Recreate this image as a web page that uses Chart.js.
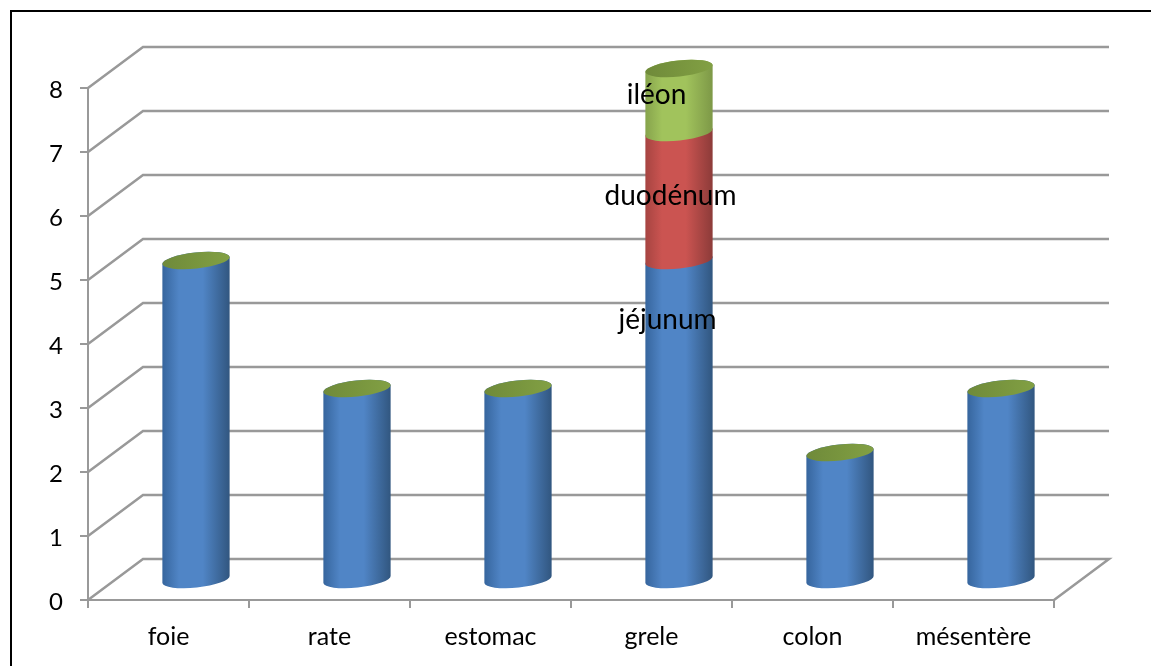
<!DOCTYPE html>
<html>
<head>
<meta charset="utf-8">
<title>grele</title>
<style>
  html, body { margin: 0; padding: 0; background: #fff; }
  #wrap { position: absolute; left: 0; top: 0; width: 1151px; height: 666px; }
</style>
<script src="https://cdn.jsdelivr.net/npm/chart.js@4"></script>
</head>
<body>
<div id="wrap"><canvas id="myChart" width="1151" height="666"></canvas></div>
<script>
// donnees
const categories = ["foie", "rate", "estomac", "grele", "colon", "mésentère"];
const jejunum = [5, 3, 3, 5, 2, 3];
const duodenum = [0, 0, 0, 2, 0, 0];
const ileon = [0, 0, 0, 1, 0, 0];
const yTicks = [0, 1, 2, 3, 4, 5, 6, 7, 8];

const FONT = "Lato, 'Open Sans', sans-serif";
const GRID = "#999999";

// profondeur de la vue 3D
const DEPTH_X = 55;
const DEPTH_Y = -41;

// ellipse des cylindres
const CAP_RY = 8;
const CAP_TILT = -0.105;
const CYL_DY = DEPTH_Y / 2 + 1;

// couleurs du cylindre : bord gauche, centre, bord droit
const shades = [
  ["#36659d", "#5085c6", "#31567f"],
  ["#a64441", "#cb5451", "#8c3b39"],
  ["#86a34c", "#a1c35c", "#7d9847"]
];
const capColors = ["#6f8a3a", "#78953e", "#82a044"];

// murs et grille derriere les barres
const walls = {
  id: "walls",
  beforeDatasetsDraw(chart) {
    const { ctx, chartArea: a, scales: { y } } = chart;
    ctx.save();
    ctx.strokeStyle = GRID;
    ctx.lineWidth = 2.5;
    yTicks.forEach(v => {
      const py = y.getPixelForValue(v);
      ctx.beginPath();
      ctx.moveTo(a.left, py);
      ctx.lineTo(a.left + DEPTH_X, py + DEPTH_Y);
      ctx.lineTo(a.right + DEPTH_X, py + DEPTH_Y);
      if (v === 0) ctx.lineTo(a.right, py);
      ctx.stroke();
    });
    ctx.restore();
  }
};

function cylinderPart(ctx, x, top, base, rx, colors) {
  const grad = ctx.createLinearGradient(x - rx, 0, x + rx, 0);
  grad.addColorStop(0, colors[0]);
  grad.addColorStop(0.25, colors[1]);
  grad.addColorStop(0.6, colors[1]);
  grad.addColorStop(1, colors[2]);
  ctx.fillStyle = grad;
  ctx.beginPath();
  ctx.ellipse(x, base, rx, CAP_RY, CAP_TILT, 0, Math.PI);
  ctx.ellipse(x, top, rx, CAP_RY, CAP_TILT, Math.PI, Math.PI * 2);
  ctx.closePath();
  ctx.fill();
}

// les cylindres sont dessines a partir des elements de barres de Chart.js
const cylinders = {
  id: "cylinders",
  afterDatasetsDraw(chart) {
    const ctx = chart.ctx;
    const last = chart.data.datasets.length - 1;
    ctx.save();
    chart.data.datasets.forEach((ds, i) => {
      chart.getDatasetMeta(i).data.forEach((bar, j) => {
        const x = bar.x + DEPTH_X / 2;
        const top = bar.y + CYL_DY;
        const base = bar.base + CYL_DY;
        const rx = bar.width / 2;
        if (ds.data[j] > 0) cylinderPart(ctx, x, top, base, rx, shades[i]);
        if (i === last) {
          const grad = ctx.createLinearGradient(x - rx, 0, x + rx, 0);
          capColors.forEach((c, k) => grad.addColorStop(k / 2, c));
          ctx.fillStyle = grad;
          ctx.beginPath();
          ctx.ellipse(x, top, rx, CAP_RY, CAP_TILT, 0, Math.PI * 2);
          ctx.fill();
        }
      });
    });
    ctx.restore();
  }
};

// noms des segments sur la barre grele, et cadre du graphique
const labels = {
  id: "labels",
  afterDraw(chart) {
    const ctx = chart.ctx;
    ctx.save();
    ctx.fillStyle = "#000";
    ctx.font = "28px " + FONT;
    ctx.textAlign = "center";
    ctx.textBaseline = "middle";
    chart.data.datasets.forEach((ds, i) => {
      const bar = chart.getDatasetMeta(i).data[categories.indexOf("grele")];
      ctx.fillText(ds.label, bar.x + ds.textDx, (bar.y + bar.base) / 2 + ds.textDy);
    });
    ctx.fillRect(10, 10, 1141, 2);
    ctx.fillRect(10, 10, 2, 656);
    ctx.restore();
  }
};

new Chart(document.getElementById("myChart"), {
  type: "bar",
  data: {
    labels: categories,
    datasets: [
      { label: "jéjunum", data: jejunum, textDx: 16, textDy: -120 },
      { label: "duodénum", data: duodenum, textDx: 19, textDy: -20 },
      { label: "iléon", data: ileon, textDx: 5, textDy: -25 }
    ].map(ds => ({ ...ds, backgroundColor: "transparent", barPercentage: 0.42, categoryPercentage: 1 }))
  },
  options: {
    responsive: false,
    animation: false,
    layout: { padding: { left: 0, right: 97, top: 88, bottom: 0 } },
    plugins: { legend: { display: false }, tooltip: { enabled: false } },
    scales: {
      x: {
        stacked: true,
        afterFit(s) { s.height = 66; },
        grid: { drawOnChartArea: false, color: GRID, lineWidth: 2, tickLength: 8 },
        border: { color: GRID, width: 2 },
        ticks: { color: "#000", font: { family: FONT, size: 25 }, padding: 14, maxRotation: 0 }
      },
      y: {
        stacked: true,
        min: 0,
        max: 8,
        afterFit(s) { s.width = 88; },
        afterBuildTicks(s) { s.ticks = yTicks.map(v => ({ value: v })); },
        grid: { drawOnChartArea: false, color: GRID, lineWidth: 2, tickLength: 8 },
        border: { color: GRID, width: 2 },
        ticks: { color: "#000", font: { family: FONT, size: 24 }, padding: 17, labelOffset: 2 }
      }
    }
  },
  plugins: [walls, cylinders, labels]
});
</script>
</body>
</html>
